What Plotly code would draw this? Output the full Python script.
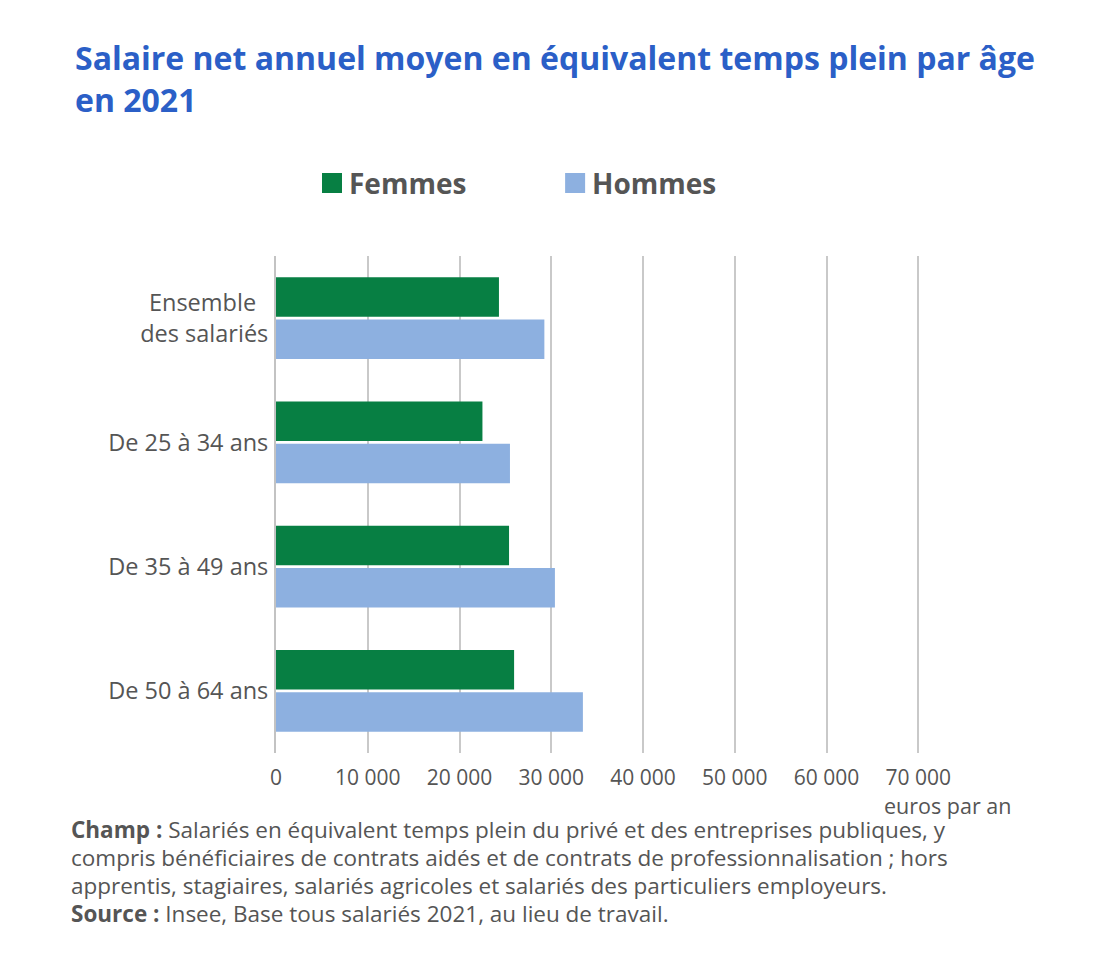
import plotly.graph_objects as go

categories = ["Ensemble des salariés", "De 25 à 34 ans", "De 35 à 49 ans", "De 50 à 64 ans"]
tick_labels = ["Ensemble\u00a0\u00a0<br>des salariés", "De 25 à 34 ans", "De 35 à 49 ans", "De 50 à 64 ans"]
femmes = [24300, 22500, 25400, 25950]
hommes = [29250, 25500, 30400, 33450]
x_ticks = [0, 10000, 20000, 30000, 40000, 50000, 60000, 70000]
x_max = 70300

GREEN = "#077f43"
BLUE = "#8db0e0"
W, H = 1100, 966
OFF = 8  # page body margin
# target plot box in screenshot coords
X0, X70, Y0, Y1 = 276, 918, 256, 753
pw = (X70 - X0) * x_max / 70000
L = X0 - OFF
T = Y0 - OFF
R = W - L - pw
B = H - T - (Y1 - Y0)
ph = Y1 - Y0

def px(x):
    return (x - OFF - L) / pw

def py(y):
    return 1 - (y - OFF - T) / ph

fig = go.Figure()
fig.add_trace(go.Bar(name="Femmes", y=categories, x=femmes, orientation="h",
                     marker=dict(color=GREEN, line=dict(width=0))))
fig.add_trace(go.Bar(name="Hommes", y=categories, x=hommes, orientation="h",
                     marker=dict(color=BLUE, line=dict(width=0))))

fig.update_layout(
    width=W, height=H,
    margin=dict(l=L, r=R, t=T, b=B, autoexpand=False),
    paper_bgcolor="white", plot_bgcolor="white",
    barmode="group", bargap=0.32, bargroupgap=0.06,
    showlegend=False,
    separators=", ",
    font=dict(family="Open Sans", color="#555555"),
    title=dict(text="Salaire net annuel moyen en équivalent temps plein par âge<br>en 2021",
               xref="container", yref="container", x=(75 - OFF) / W, xanchor="left",
               y=1 - (70 - OFF) / H, yanchor="top",
               font=dict(family="Open Sans", size=32, color="#2b5fc7", weight="bold")),
    xaxis=dict(range=[0, x_max], tickvals=x_ticks, tickformat=",d",
               showgrid=True, gridcolor="#c9c9c9", gridwidth=2,
               zeroline=False, showline=False, ticks="outside", ticklen=6,
               tickcolor="rgba(0,0,0,0)",
               tickfont=dict(family="Open Sans", size=21, color="#555555")),
    yaxis=dict(categoryorder="array", categoryarray=categories, autorange="reversed",
               tickvals=categories, ticktext=tick_labels,
               showline=True, linecolor="#c3c3c3", linewidth=2, ticks="",
               ticklabelstandoff=1,
               tickfont=dict(family="Open Sans", size=23.5, color="#555555")),
)

# Legend (drawn manually to match the large square swatches)
for xs, color, label in [(322, GREEN, "Femmes"), (565, BLUE, "Hommes")]:
    fig.add_shape(type="rect", xref="paper", yref="paper",
                  x0=px(xs), x1=px(xs + 20), y0=py(193), y1=py(173),
                  fillcolor=color, line=dict(width=0))
    fig.add_annotation(text="<b>" + label + "</b>", xref="paper", yref="paper",
                       x=px(xs + 25), y=py(183), xanchor="left", yanchor="middle",
                       showarrow=False, font=dict(family="Open Sans", size=28, color="#555555"))

fig.add_annotation(text="euros par an", xref="paper", yref="paper",
                   x=px(1013), y=py(805), xanchor="right", yanchor="middle",
                   showarrow=False, font=dict(family="Open Sans", size=21.5, color="#555555"))

notes = [
    "<b>Champ :</b> Salariés en équivalent temps plein du privé et des entreprises publiques, y",
    "compris bénéficiaires de contrats aidés et de contrats de professionnalisation ; hors",
    "apprentis, stagiaires, salariés agricoles et salariés des particuliers employeurs.",
    "<b>Source :</b> Insee, Base tous salariés 2021, au lieu de travail.",
]
for i, line in enumerate(notes):
    fig.add_annotation(text=line, xref="paper", yref="paper",
                       x=px(69), y=py(829 + 28 * i), xanchor="left", yanchor="middle",
                       showarrow=False, font=dict(family="Open Sans", size=22.5, color="#555555"))

fig.write_html("out.html")
